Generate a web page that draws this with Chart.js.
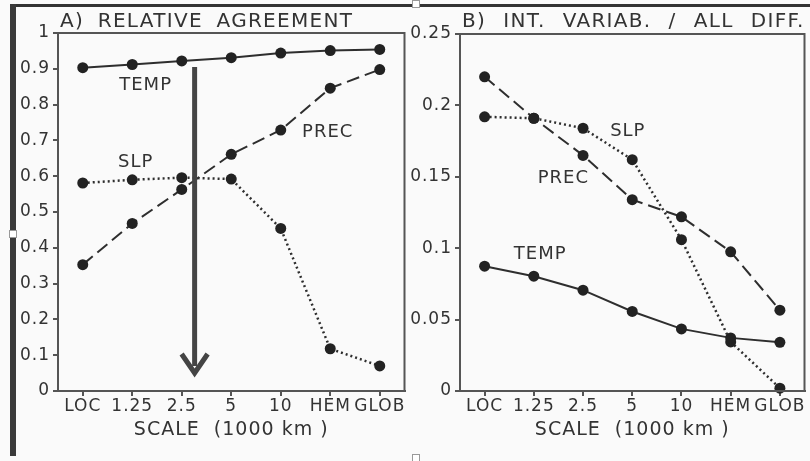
<!DOCTYPE html>
<html>
<head>
<meta charset="utf-8">
<script src="https://cdn.jsdelivr.net/npm/chart.js@4.4.1/dist/chart.umd.min.js"></script>
<style>
    html, body { margin: 0; padding: 0; background: #fafafa; }
    body { width: 810px; height: 461px; position: relative; overflow: hidden;
           font-family: "DejaVu Sans", sans-serif; color: #333; }
    .panel { position: absolute; top: 0; height: 461px; }
    #panel-a { left: 0; width: 410px; }
    #panel-b { left: 410px; width: 400px; }
    .title { position: absolute; top: 7px; font-size: 20px; line-height: 26px;
             letter-spacing: 1.3px; white-space: pre; color: #333; }
    .frame-top { position: absolute; left: 12px; top: 4px; width: 798px; height: 3px; background: #333; }
    .frame-left { position: absolute; left: 10px; top: 4px; width: 6px; height: 452px; background: #3a3a3a; }
    .handle { position: absolute; width: 6px; height: 6px; border: 1px solid #999; background: #fff; }
</style>
</head>
<body>
<div class="frame-top"></div>
<div class="frame-left"></div>
<div class="handle" style="left:9px; top:230px;"></div>
<div class="handle" style="left:412px; top:0px;"></div>
<div class="handle" style="left:412px; top:454px;"></div>
<div class="panel" id="panel-a"><canvas id="chart-a" width="410" height="461"></canvas></div>
<div class="panel" id="panel-b"><canvas id="chart-b" width="400" height="461"></canvas></div>
<div class="title" style="left:60px; word-spacing:6px;">A) RELATIVE AGREEMENT</div>
<div class="title" style="left:462px; word-spacing:9.5px;">B) INT. VARIAB. / ALL DIFF.</div>

<script>
// Categories (spatial scale)
const scales = ['LOC', '1.25', '2.5', '5', '10', 'HEM', 'GLOB'];

// Panel A - relative agreement
const agreeTemp = [0.903, 0.912, 0.922, 0.931, 0.944, 0.951, 0.954];
const agreePrec = [0.353, 0.468, 0.563, 0.661, 0.729, 0.846, 0.898];
const agreeSlp  = [0.581, 0.590, 0.596, 0.592, 0.454, 0.118, 0.070];

// Panel B - internal variability / all differences
const varTemp = [0.0874, 0.0804, 0.0706, 0.0557, 0.0435, 0.0372, 0.0341];
const varPrec = [0.220, 0.191, 0.165, 0.134, 0.122, 0.0975, 0.0566];
const varSlp  = [0.192, 0.191, 0.184, 0.162, 0.106, 0.0344, 0.002];

// Tick labels
const ticksA = ['0', '0.1', '0.2', '0.3', '0.4', '0.5', '0.6', '0.7', '0.8', '0.9', '1'];
const ticksB = ['0', '0.05', '0.1', '0.15', '0.2', '0.25'];

const axisTitle = 'SCALE  (1000 km )';

(function() {
    'use strict';

    const INK = '#2e2e2e';
    const AXIS = '#555';
    const TEXT = '#333';
    const FONT = '"DejaVu Sans", sans-serif';

    /**
     * Series label placement, in data units (category index, value)
     */
    const labelsA = [
        { text: 'TEMP', x: 1.27, y: 0.854 },
        { text: 'SLP',  x: 1.07, y: 0.639 },
        { text: 'PREC', x: 4.95, y: 0.723 }
    ];
    const labelsB = [
        { text: 'SLP',  x: 2.91, y: 0.182 },
        { text: 'PREC', x: 1.60, y: 0.149 },
        { text: 'TEMP', x: 1.13, y: 0.0957 }
    ];

    /**
     * Arrow in panel A (category index, from value, to value)
     */
    const arrowA = { x: 2.26, from: 0.905, to: 0.042 };

    function series(data, dash, width) {
        return {
            data: data,
            borderColor: INK,
            borderWidth: width,
            borderDash: dash,
            backgroundColor: '#222',
            pointBackgroundColor: '#222',
            pointBorderColor: '#222',
            pointRadius: 5.5,
            pointBorderWidth: 0,
            tension: 0,
            clip: false
        };
    }

    const framePlugin = {
        id: 'frame',
        beforeDraw: function(chart) {
            chart.ctx.letterSpacing = '1px';
        },
        afterDraw: function(chart) {
            const a = chart.chartArea;
            const ctx = chart.ctx;
            ctx.save();
            ctx.strokeStyle = AXIS;
            ctx.lineWidth = 2;
            ctx.strokeRect(a.left, a.top, a.right - a.left, a.bottom - a.top);
            ctx.restore();
        }
    };

    const labelPlugin = {
        id: 'seriesLabels',
        afterDatasetsDraw: function(chart, args, opts) {
            const ctx = chart.ctx;
            const x = chart.scales.x;
            const y = chart.scales.y;
            ctx.save();
            ctx.font = '18px ' + FONT;
            ctx.fillStyle = TEXT;
            ctx.textAlign = 'center';
            ctx.textBaseline = 'middle';
            (opts.items || []).forEach(function(item) {
                ctx.fillText(item.text, x.getPixelForValue(item.x), y.getPixelForValue(item.y));
            });

            // Downward arrow
            if (opts.arrow) {
                const ax = x.getPixelForValue(opts.arrow.x);
                const y0 = y.getPixelForValue(opts.arrow.from);
                const y1 = y.getPixelForValue(opts.arrow.to);
                ctx.strokeStyle = '#444';
                ctx.lineWidth = 5;
                ctx.beginPath();
                ctx.moveTo(ax, y0);
                ctx.lineTo(ax, y1 - 10);
                ctx.stroke();
                ctx.lineJoin = 'miter';
                ctx.beginPath();
                ctx.moveTo(ax - 13, y1 - 22);
                ctx.lineTo(ax, y1 - 3);
                ctx.lineTo(ax + 13, y1 - 22);
                ctx.stroke();
            }
            ctx.restore();
        }
    };

    function buildChart(canvas, cfg) {
        return new Chart(canvas, {
            type: 'line',
            data: {
                labels: scales,
                datasets: [
                    series(cfg.temp, [], 2),
                    series(cfg.prec, [13, 6], 2),
                    series(cfg.slp, [2, 3], 2.5)
                ]
            },
            options: {
                responsive: false,
                animation: false,
                events: [],
                layout: { padding: { top: cfg.top, right: cfg.right, left: 0, bottom: 0 } },
                plugins: {
                    legend: { display: false },
                    tooltip: { enabled: false },
                    seriesLabels: { items: cfg.labels, arrow: cfg.arrow }
                },
                scales: {
                    x: {
                        type: 'category',
                        offset: true,
                        afterFit: function(s) { s.height = 70; },
                        grid: { display: true, drawOnChartArea: false, tickLength: 5, color: AXIS, lineWidth: 2 },
                        border: { display: true, color: AXIS, width: 2 },
                        ticks: {
                            color: TEXT, padding: 0, maxRotation: 0, autoSkip: false,
                            font: { family: FONT, size: 17 }
                        },
                        title: {
                            display: true, text: axisTitle, color: TEXT,
                            font: { family: FONT, size: 19 },
                            padding: { top: 0, bottom: 20 }
                        }
                    },
                    y: {
                        min: 0,
                        max: cfg.max,
                        afterFit: function(s) { s.width = cfg.yWidth; },
                        afterBuildTicks: function(s) {
                            s.ticks = cfg.ticks.map(function(t) { return { value: parseFloat(t) }; });
                        },
                        grid: { display: true, drawOnChartArea: false, tickLength: 5, color: AXIS, lineWidth: 2 },
                        border: { display: true, color: AXIS, width: 2 },
                        ticks: {
                            color: TEXT, padding: 3,
                            font: { family: FONT, size: 17 },
                            callback: function(value, index) { return cfg.ticks[index]; }
                        }
                    }
                }
            },
            plugins: [framePlugin, labelPlugin]
        });
    }

    buildChart(document.getElementById('chart-a'), {
        temp: agreeTemp, prec: agreePrec, slp: agreeSlp,
        max: 1, ticks: ticksA, top: 33, right: 4, yWidth: 58,
        labels: labelsA, arrow: arrowA
    });

    buildChart(document.getElementById('chart-b'), {
        temp: varTemp, prec: varPrec, slp: varSlp,
        max: 0.25, ticks: ticksB, top: 34, right: 3, yWidth: 50,
        labels: labelsB, arrow: null
    });
})();
</script>
</body>
</html>
